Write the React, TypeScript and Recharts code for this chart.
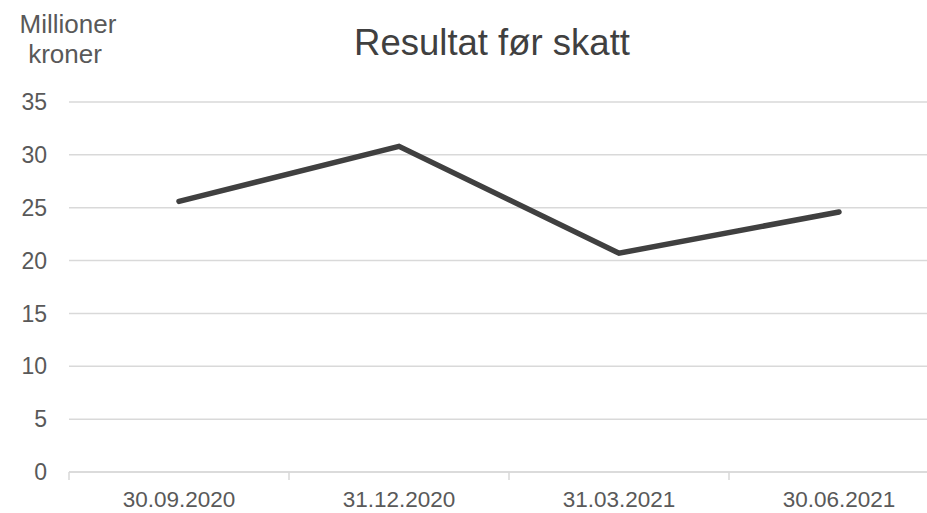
import React from "react";
import { LineChart, Line, XAxis, YAxis, CartesianGrid } from "recharts";

const categories = ["30.09.2020", "31.12.2020", "31.03.2021", "30.06.2021"];
const resultat = [25.6, 30.8, 20.7, 24.6];
const yTicks = [0, 5, 10, 15, 20, 25, 30, 35];

const data = categories.map((c, i) => ({ name: c, value: resultat[i] }));

const FONT = '"Liberation Sans", Arial, sans-serif';
const HALF_BAND = 110;

function XTick(props: any) {
  const { x, y, payload } = props;
  return (
    <g>
      <line x1={x - HALF_BAND} y1={y} x2={x - HALF_BAND} y2={y + 8} stroke="#d9d9d9" strokeWidth={1.5} />
      <text x={x} y={y + 35} textAnchor="middle" fontSize={22.5} fill="#595959" fontFamily={FONT}>
        {payload.value}
      </text>
    </g>
  );
}

export default function App() {
  return (
    <div
      style={{
        position: "absolute",
        left: 0,
        top: 0,
        width: 927,
        height: 513,
        overflow: "hidden",
        background: "#fff",
        fontFamily: FONT,
      }}
    >
      <LineChart
        width={950}
        height={513}
        data={data}
        margin={{ top: 102, right: 1, bottom: 0, left: 0 }}
        style={{ overflow: "visible" }}
      >
        <CartesianGrid vertical={false} stroke="#d9d9d9" strokeWidth={1.5} />
        <XAxis
          dataKey="name"
          height={41}
          stroke="#d9d9d9"
          strokeWidth={1.5}
          padding={{ left: HALF_BAND, right: HALF_BAND }}
          tickLine={false}
          tickSize={0}
          tickMargin={0}
          tick={<XTick />}
          interval={0}
        />
        <YAxis
          width={69}
          domain={[0, 35]}
          ticks={yTicks}
          axisLine={false}
          tickLine={false}
          tickSize={0}
          tickMargin={22}
          tick={{ fill: "#595959", fontSize: 23, fontFamily: FONT }}
          interval={0}
        />
        <Line
          type="linear"
          dataKey="value"
          stroke="#404040"
          strokeWidth={5.5}
          dot={false}
          activeDot={false}
          strokeLinecap="round"
          isAnimationActive={false}
        />
      </LineChart>
      <svg
        width={927}
        height={513}
        style={{ position: "absolute", left: 0, top: 0, pointerEvents: "none" }}
      >
        <text x={492} y={55} textAnchor="middle" fontSize={36.5} fill="#404040" fontFamily={FONT}>
          Resultat før skatt
        </text>
        <text x={68} y={33} textAnchor="middle" fontSize={26} fill="#595959" fontFamily={FONT}>
          Millioner
        </text>
        <text x={65} y={63} textAnchor="middle" fontSize={26} fill="#595959" fontFamily={FONT}>
          kroner
        </text>
      </svg>
    </div>
  );
}
